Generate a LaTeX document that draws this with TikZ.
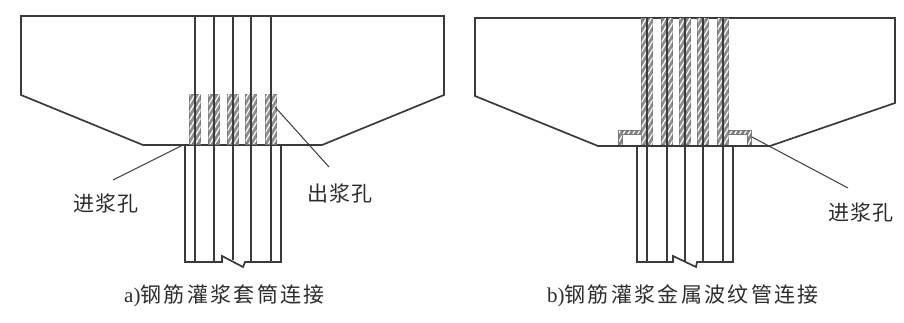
\documentclass[tikz,border=0pt]{standalone}
\usepackage{fontspec}
\setmainfont{Liberation Serif}
\newfontfamily\cjk[LetterSpace=11]{Noto Sans CJK SC}
\newfontfamily\cjklab[LetterSpace=3]{Noto Sans CJK SC}
\usetikzlibrary{patterns.meta}
\definecolor{ink}{HTML}{3A3A3A}
\definecolor{hatchgray}{HTML}{7A7A7A}
\definecolor{labelink}{HTML}{2C2C2C}
\tikzset{
  outline/.style={draw=ink,line width=1.7pt,line join=miter},
  barline/.style={draw=ink,line width=1.7pt},
  leaderline/.style={draw=ink,line width=1pt},
  sleevebox/.style={draw=hatchgray,line width=1.2pt,fill=hatchgray!85,
    postaction={pattern={Lines[angle=60,distance=4.2pt,line width=1.2pt]},pattern color=white}},
  labeltext/.style={inner sep=0pt,text=labelink,font=\fontsize{21}{21}\selectfont\cjklab},
  captiontext/.style={inner sep=0pt,anchor=west,text=labelink,font=\fontsize{21}{21}\selectfont}
}
\begin{document}
\begin{tikzpicture}[x=1pt,y=-1pt]
\useasboundingbox (0,0) rectangle (904,323);
% Left part
\draw[outline] (143,145) -- (21,95) -- (21,16) -- (444,16) -- (444,95) -- (322,145) -- cycle;
\foreach \c in {195,214,233,251,271}
  \path[sleevebox] (\c-5.5,94.5) rectangle (\c+5.5,144);
\foreach \c in {195,214,251,271}
  \draw[barline] (\c,16) -- (\c,262);
\draw[barline] (233,16) -- (233,260);
\draw[outline] (185,145) -- (185,262) -- (222,262) -- (222,256) -- (243,267) -- (245,262) -- (281,262) -- (281,145);
% Right part
\draw[outline] (598,146) -- (475,96) -- (475,18) -- (895,18) -- (895,103) -- (770,146) -- cycle;
\path[sleevebox] (619,146) -- (619,131) -- (642,131) -- (642,134) -- (622,134) -- (622,146) -- cycle;
\path[sleevebox] (751,146) -- (751,131) -- (728,131) -- (728,134) -- (748,134) -- (748,146) -- cycle;
\foreach \c in {647,667,685,703,723}
  \path[sleevebox] (\c-5.5,19) rectangle (\c+5.5,145);
\foreach \c in {647,667,703,723}
  \draw[barline] (\c,18) -- (\c,262);
\draw[barline] (685,18) -- (685,261);
\draw[outline] (637,146) -- (637,262) -- (673,262) -- (673,256) -- (696,267) -- (697,262) -- (733,262) -- (733,146);
\draw[outline] (598,146) -- (770,146);
% Labels
\node[labeltext] (inA) at (106,203) {进浆孔};
\node[labeltext] (outA) at (340,193) {出浆孔};
\node[labeltext] (inB) at (861,212) {进浆孔};
\node[captiontext] (capA) at (124,296) {a)\cjk 钢筋灌浆套筒连接};
\node[captiontext] (capB) at (547,296) {b)\cjk 钢筋灌浆金属波纹管连接};
% Leaders
\coordinate (inAstart) at (183,145);
\coordinate (inAend) at (113,180);
\coordinate (outAstart) at (275,107);
\coordinate (outAend) at (329,167);
\coordinate (inBstart) at (752,137);
\coordinate (inBend) at (848,188);
\draw[leaderline] (inAstart) -- (inAend);
\draw[leaderline] (outAstart) -- (outAend);
\draw[leaderline] (inBstart) -- (inBend);
\end{tikzpicture}
\end{document}
